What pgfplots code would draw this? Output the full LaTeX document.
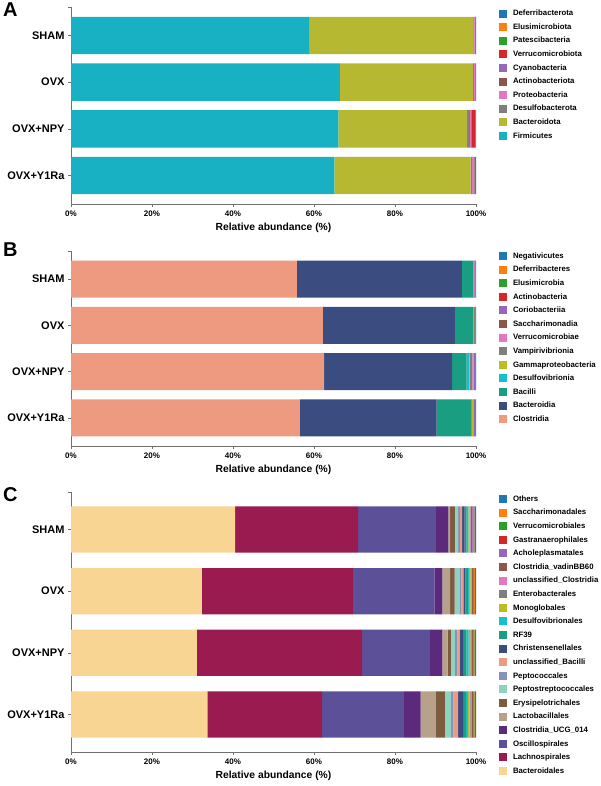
\documentclass[border=0pt]{standalone}
\usepackage{pgfplots}
\pgfplotsset{compat=1.18}
\usepackage{pgfplotstable}
\usepackage{fontspec}
\setmainfont{Liberation Sans}

\definecolor{k1}{HTML}{1F77B4}
\definecolor{k2}{HTML}{FF7F0E}
\definecolor{k3}{HTML}{2CA02C}
\definecolor{k4}{HTML}{D62728}
\definecolor{k5}{HTML}{9467BD}
\definecolor{k6}{HTML}{8C564B}
\definecolor{k7}{HTML}{E377C2}
\definecolor{k8}{HTML}{7F7F7F}
\definecolor{k9}{HTML}{BCBD22}
\definecolor{k10}{HTML}{17BECF}
\definecolor{k11}{HTML}{1A9E82}
\definecolor{k12}{HTML}{3B4D80}
\definecolor{k13}{HTML}{EE9A80}
\definecolor{k14}{HTML}{8593BB}
\definecolor{k15}{HTML}{8DD3C0}
\definecolor{k16}{HTML}{7D5B3F}
\definecolor{k17}{HTML}{B7A18A}
\definecolor{k18}{HTML}{5B2A7C}
\definecolor{k19}{HTML}{5C5199}
\definecolor{k20}{HTML}{9A1B4F}
\definecolor{k21}{HTML}{F9D593}
\definecolor{firm}{HTML}{17B1C3}
\definecolor{bactd}{HTML}{B6B832}
\definecolor{axgray}{HTML}{707070}

\pgfplotstableread{
idx Firm Bact Desul Prot Actino Cyano Verru Pates Elus Defer
0 58.8 40.5 0.1 0.25 0.05 0.25 0.02 0.02 0.005 0.005
1 66.4 32.9 0.2 0.3 0.05 0.1 0.02 0.02 0.005 0.005
2 66.0 31.8 0.7 0.3 0.1 0.1 0.8 0.1 0.05 0.05
3 65.0 33.7 0.25 0.6 0.05 0.05 0.02 0.3 0.01 0.02
}\tabA

\pgfplotstableread{
idx Clos Bacd Baci Desv Gamm Vamp Verr Sacc Cori Acti Elus Defe Nega
0 55.8 40.7 2.8 0.1 0.1 0.05 0.02 0.05 0.1 0.1 0.03 0.1 0.05
1 62.2 32.6 4.5 0.1 0.15 0.2 0.02 0.05 0.1 0.05 0.01 0.01 0.01
2 62.5 31.6 3.6 0.6 0.1 0.7 0.3 0.1 0.2 0.15 0.1 0.03 0.02
3 56.5 33.8 8.6 0.05 0.3 0.05 0.02 0.1 0.3 0.2 0.01 0.05 0.02
}\tabB

\pgfplotstableread{
idx Bacs Lach Osci Ucg Lact Erys Pstr Pcoc UBac Chri RF Desu Mono Ente UClo Vadi Acho Gast Verr Sacc Oth
0 40.5 30.4 19.2 3.1 0.4 1.2 0.8 0.5 0.5 0.6 0.5 0.4 0.3 0.2 0.2 0.2 0.15 0.1 0.15 0.2 0.4
1 32.3 37.3 20.1 2.0 1.9 1.1 1.2 0.5 0.5 0.5 0.6 0.4 0.3 0.15 0.2 0.15 0.1 0.1 0.15 0.15 0.3
2 31.1 40.8 16.7 3.1 1.3 0.8 1.0 0.6 0.6 0.8 0.8 0.6 0.4 0.2 0.25 0.2 0.1 0.1 0.15 0.1 0.3
3 33.7 28.3 20.2 4.1 3.8 2.2 1.5 0.6 1.2 1.2 0.7 0.5 0.4 0.3 0.3 0.2 0.15 0.15 0.1 0.1 0.3
}\tabC

\pgfplotsset{
  panel/.style={
    scale only axis, width=405pt,
    xmin=0, xmax=100, ymin=-0.61, ymax=3.61, y dir=reverse,
    xbar stacked,
    axis x line*=bottom, axis y line*=left,
    axis line style={axgray, line width=0.6pt},
    xtick={0,20,40,60,80,100},
    xticklabels={0\%,20\%,40\%,60\%,80\%,100\%},
    ytick={0,1,2,3},
    yticklabels={SHAM,OVX,OVX+NPY,OVX+Y1Ra},
    extra y ticks={-0.61}, extra y tick labels={},
    tick align=outside, major tick length=3pt,
    tick style={axgray, line width=0.6pt},
    xticklabel style={font=\bfseries\fontsize{8}{9}\selectfont},
    yticklabel style={font=\bfseries\fontsize{11}{12}\selectfont},
    xlabel={Relative abundance (\%)},
    xlabel style={font=\bfseries\fontsize{10.3}{12}\selectfont},
    legend style={draw=none, fill=none, anchor=north west,
      font=\bfseries\fontsize{7.8}{9}\selectfont,
      inner sep=0pt, outer sep=0pt, row sep=0pt,
      nodes={inner sep=0pt, text height=9pt, text depth=4.6pt},
      /tikz/every odd column/.append style={column sep=6pt}},
    legend cell align=left,
    reverse legend,
    legend image code/.code={\fill[##1] (0pt,-4pt) rectangle (8pt,4pt);},
  },
  seg/.style={draw=none, fill=#1},
}

\begin{document}
\begin{tikzpicture}
\useasboundingbox (0pt,0pt) rectangle (600pt,-786pt);

\node[anchor=base west, inner sep=0pt, font=\bfseries\fontsize{20}{20}\selectfont] at (3pt,-17pt) {A};
\node[anchor=base west, inner sep=0pt, font=\bfseries\fontsize{20}{20}\selectfont] at (3pt,-256pt) {B};
\node[anchor=base west, inner sep=0pt, font=\bfseries\fontsize{20}{20}\selectfont] at (3pt,-501pt) {C};

% Panel A
\begin{axis}[panel, at={(71pt,-7pt)}, anchor=north west, height=197pt, bar width=0.8,
  legend style={at={(axis description cs:1.0568,1.0015)}}]
\addplot[seg=firm] table[x=Firm,y=idx]{\tabA}; \addlegendentry{Firmicutes}
\addplot[seg=bactd] table[x=Bact,y=idx]{\tabA}; \addlegendentry{Bacteroidota}
\addplot[seg=k8] table[x=Desul,y=idx]{\tabA}; \addlegendentry{Desulfobacterota}
\addplot[seg=k7] table[x=Prot,y=idx]{\tabA}; \addlegendentry{Proteobacteria}
\addplot[seg=k6] table[x=Actino,y=idx]{\tabA}; \addlegendentry{Actinobacteriota}
\addplot[seg=k5] table[x=Cyano,y=idx]{\tabA}; \addlegendentry{Cyanobacteria}
\addplot[seg=k4] table[x=Verru,y=idx]{\tabA}; \addlegendentry{Verrucomicrobiota}
\addplot[seg=k3] table[x=Pates,y=idx]{\tabA}; \addlegendentry{Patescibacteria}
\addplot[seg=k2] table[x=Elus,y=idx]{\tabA}; \addlegendentry{Elusimicrobiota}
\addplot[seg=k1] table[x=Defer,y=idx]{\tabA}; \addlegendentry{Deferribacterota}
\end{axis}

% Panel B
\begin{axis}[panel, at={(71pt,-251pt)}, anchor=north west, height=195pt, bar width=0.8,
  legend style={at={(axis description cs:1.0568,1.009)}}]
\addplot[seg=k13] table[x=Clos,y=idx]{\tabB}; \addlegendentry{Clostridia}
\addplot[seg=k12] table[x=Bacd,y=idx]{\tabB}; \addlegendentry{Bacteroidia}
\addplot[seg=k11] table[x=Baci,y=idx]{\tabB}; \addlegendentry{Bacilli}
\addplot[seg=k10] table[x=Desv,y=idx]{\tabB}; \addlegendentry{Desulfovibrionia}
\addplot[seg=k9] table[x=Gamm,y=idx]{\tabB}; \addlegendentry{Gammaproteobacteria}
\addplot[seg=k8] table[x=Vamp,y=idx]{\tabB}; \addlegendentry{Vampirivibrionia}
\addplot[seg=k7] table[x=Verr,y=idx]{\tabB}; \addlegendentry{Verrucomicrobiae}
\addplot[seg=k6] table[x=Sacc,y=idx]{\tabB}; \addlegendentry{Saccharimonadia}
\addplot[seg=k5] table[x=Cori,y=idx]{\tabB}; \addlegendentry{Coriobacteriia}
\addplot[seg=k4] table[x=Acti,y=idx]{\tabB}; \addlegendentry{Actinobacteria}
\addplot[seg=k3] table[x=Elus,y=idx]{\tabB}; \addlegendentry{Elusimicrobia}
\addplot[seg=k2] table[x=Defe,y=idx]{\tabB}; \addlegendentry{Deferribacteres}
\addplot[seg=k1] table[x=Nega,y=idx]{\tabB}; \addlegendentry{Negativicutes}
\end{axis}

% Panel C
\begin{axis}[panel, at={(71pt,-492pt)}, anchor=north west, height=260pt, bar width=0.75,
  legend style={at={(axis description cs:1.0568,0.999)}}]
\addplot[seg=k21] table[x=Bacs,y=idx]{\tabC}; \addlegendentry{Bacteroidales}
\addplot[seg=k20] table[x=Lach,y=idx]{\tabC}; \addlegendentry{Lachnospirales}
\addplot[seg=k19] table[x=Osci,y=idx]{\tabC}; \addlegendentry{Oscillospirales}
\addplot[seg=k18] table[x=Ucg,y=idx]{\tabC}; \addlegendentry{Clostridia\_UCG\_014}
\addplot[seg=k17] table[x=Lact,y=idx]{\tabC}; \addlegendentry{Lactobacillales}
\addplot[seg=k16] table[x=Erys,y=idx]{\tabC}; \addlegendentry{Erysipelotrichales}
\addplot[seg=k15] table[x=Pstr,y=idx]{\tabC}; \addlegendentry{Peptostreptococcales}
\addplot[seg=k14] table[x=Pcoc,y=idx]{\tabC}; \addlegendentry{Peptococcales}
\addplot[seg=k13] table[x=UBac,y=idx]{\tabC}; \addlegendentry{unclassified\_Bacilli}
\addplot[seg=k12] table[x=Chri,y=idx]{\tabC}; \addlegendentry{Christensenellales}
\addplot[seg=k11] table[x=RF,y=idx]{\tabC}; \addlegendentry{RF39}
\addplot[seg=k10] table[x=Desu,y=idx]{\tabC}; \addlegendentry{Desulfovibrionales}
\addplot[seg=k9] table[x=Mono,y=idx]{\tabC}; \addlegendentry{Monoglobales}
\addplot[seg=k8] table[x=Ente,y=idx]{\tabC}; \addlegendentry{Enterobacterales}
\addplot[seg=k7] table[x=UClo,y=idx]{\tabC}; \addlegendentry{unclassified\_Clostridia}
\addplot[seg=k6] table[x=Vadi,y=idx]{\tabC}; \addlegendentry{Clostridia\_vadinBB60}
\addplot[seg=k5] table[x=Acho,y=idx]{\tabC}; \addlegendentry{Acholeplasmatales}
\addplot[seg=k4] table[x=Gast,y=idx]{\tabC}; \addlegendentry{Gastranaerophilales}
\addplot[seg=k3] table[x=Verr,y=idx]{\tabC}; \addlegendentry{Verrucomicrobiales}
\addplot[seg=k2] table[x=Sacc,y=idx]{\tabC}; \addlegendentry{Saccharimonadales}
\addplot[seg=k1] table[x=Oth,y=idx]{\tabC}; \addlegendentry{Others}
\end{axis}
\end{tikzpicture}
\end{document}
